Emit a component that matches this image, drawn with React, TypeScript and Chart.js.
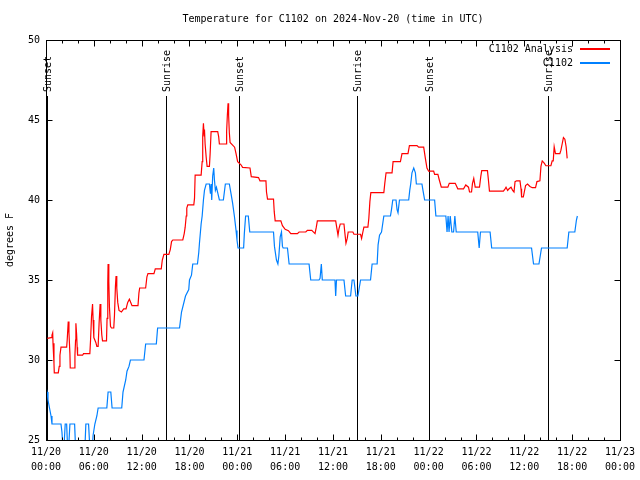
import React, { useEffect, useRef } from "react";
import { Chart, registerables } from "chart.js";

Chart.register(...registerables);

const TITLE = "Temperature for C1102 on 2024-Nov-20 (time in UTC)";
const Y_TITLE = "degrees F";
const SERIES_NAMES = ["C1102 Analysis", "C1102"];
const SERIES_COLORS = ["#ff0000", "#0080ff"];

// hours since 2024-11-20 00:00 UTC
const X_MIN = 0;
const X_MAX = 72;
const X_MAJOR = 6;
const X_MINOR = 2;
const X_TICK_DATES = ["11/20", "11/20", "11/20", "11/20", "11/21", "11/21", "11/21", "11/21", "11/22", "11/22", "11/22", "11/22", "11/23"];
const X_TICK_TIMES = ["00:00", "06:00", "12:00", "18:00", "00:00", "06:00", "12:00", "18:00", "00:00", "06:00", "12:00", "18:00", "00:00"];
const Y_MIN = 25;
const Y_MAX = 50;
const Y_STEP = 5;

const EVENT_LABELS = ["Sunset", "Sunrise", "Sunset", "Sunrise", "Sunset", "Sunrise"];
const EVENT_HOURS = [0.1, 15.05, 24.15, 39.05, 48.05, 63.0];
const EVENT_LINE_TOP = 46.5;
const EVENT_LABEL_BASE = 46.75;

const analysisHours = [
  0.16, 0.63, 0.75, 0.84, 0.88, 1.0, 1.04, 1.54, 1.66, 1.75, 1.88, 2.59, 2.66, 2.79, 2.88, 3.0, 3.04, 3.59, 3.63, 3.71,
  3.75, 3.84, 3.91, 3.96, 4.59, 4.71, 5.5, 5.59, 5.71, 5.84, 5.91, 6.0, 6.25, 6.38, 6.54, 6.66, 6.79, 6.88, 7.0, 7.09,
  7.59, 7.66, 7.75, 7.79, 7.88, 7.96, 8.09, 8.21, 8.5, 8.59, 8.71, 8.79, 8.88, 9.0, 9.16, 9.46, 9.75, 10.04, 10.25, 10.46,
  10.63, 10.79, 11.54, 11.66, 11.75, 12.5, 12.66, 12.79, 13.54, 13.71, 14.46, 14.59, 14.79, 15.41, 15.59, 15.75, 15.91, 17.16, 17.34, 17.46,
  17.59, 17.66, 17.79, 18.54, 18.63, 18.71, 19.46, 19.59, 19.66, 19.75, 19.84, 19.88, 19.96, 20.09, 20.21, 20.5, 20.59, 20.71, 21.54, 21.66,
  21.75, 22.59, 22.66, 22.75, 22.84, 22.91, 23.0, 23.09, 23.66, 23.84, 24.04, 24.46, 24.66, 25.59, 25.75, 26.66, 26.84, 27.59, 27.66, 27.79,
  28.54, 28.63, 28.75, 29.46, 29.66, 30.0, 30.41, 30.71, 31.54, 31.75, 32.59, 32.79, 33.34, 33.75, 33.91, 34.04, 36.34, 36.5, 36.63, 36.75,
  36.91, 37.38, 37.5, 37.63, 37.79, 37.91, 38.5, 38.63, 39.46, 39.59, 39.75, 39.88, 40.38, 40.5, 40.63, 40.75, 42.38, 42.5, 42.66, 43.41,
  43.54, 44.46, 44.66, 45.41, 45.59, 46.54, 46.75, 47.38, 47.59, 47.79, 48.0, 48.63, 48.75, 49.16, 49.34, 49.59, 50.41, 50.59, 51.34, 51.66,
  52.38, 52.66, 53.0, 53.13, 53.38, 53.5, 53.66, 53.84, 54.38, 54.54, 54.66, 55.38, 55.5, 55.63, 57.38, 57.59, 57.71, 57.91, 58.09, 58.34,
  58.54, 58.71, 58.84, 59.04, 59.46, 59.59, 59.66, 59.88, 60.0, 60.16, 60.41, 60.71, 61.0, 61.41, 61.59, 61.96, 62.09, 62.25, 62.5, 62.71,
  63.34, 63.5, 63.63, 63.75, 63.91, 64.46, 64.59, 64.75, 64.91, 65.09, 65.25, 65.38,
];
const analysisTemps = [
  31.35, 31.4, 31.56, 31.7, 31.04, 29.8, 29.2, 29.2, 29.6, 30.3, 30.8, 30.8, 31.25, 32.4, 31.7, 30.4, 29.5, 29.5, 30.3, 31.25,
  32.3, 31.6, 30.8, 30.3, 30.3, 30.4, 30.4, 31.25, 32.7, 33.5, 32.5, 31.4, 31.1, 30.85, 30.85, 32.3, 33.5, 32.5, 31.56, 31.2,
  31.2, 32.6, 34.8, 36.0, 34.9, 33.3, 32.1, 32.0, 32.0, 32.8, 34.6, 35.25, 34.5, 33.6, 33.1, 33.0, 33.2, 33.2, 33.6, 33.8,
  33.6, 33.4, 33.4, 34.2, 34.5, 34.5, 35.2, 35.4, 35.4, 35.7, 35.7, 36.25, 36.6, 36.6, 36.9, 37.4, 37.5, 37.5, 37.9, 38.3,
  39.0, 39.5, 39.7, 39.7, 40.1, 41.56, 41.56, 42.4, 44.0, 44.8, 44.0, 44.4, 43.5, 42.7, 42.1, 42.1, 42.9, 44.27, 44.27, 43.96,
  43.5, 43.5, 44.3, 45.3, 46.04, 45.3, 44.2, 43.6, 43.3, 42.9, 42.4, 42.2, 42.04, 42.0, 41.46, 41.4, 41.2, 41.2, 40.5, 40.06,
  40.06, 39.27, 38.7, 38.7, 38.4, 38.17, 38.08, 37.9, 37.9, 38.0, 38.0, 38.1, 38.1, 37.9, 38.3, 38.7, 38.7, 38.2, 37.8, 38.2,
  38.5, 38.5, 37.9, 37.3, 37.6, 38.0, 38.0, 37.86, 37.86, 37.6, 38.0, 38.3, 38.3, 38.86, 39.9, 40.46, 40.46, 41.04, 41.7, 41.7,
  42.4, 42.4, 42.9, 42.9, 43.4, 43.4, 43.3, 43.3, 42.6, 42.0, 41.8, 41.8, 41.6, 41.6, 41.25, 40.8, 40.8, 41.04, 41.04, 40.7,
  40.7, 40.94, 40.8, 40.5, 40.5, 41.04, 41.35, 40.8, 40.8, 41.46, 41.83, 41.83, 41.25, 40.56, 40.56, 40.7, 40.8, 40.6, 40.7, 40.8,
  40.6, 40.5, 41.15, 41.2, 41.2, 40.7, 40.2, 40.2, 40.5, 40.9, 41.0, 40.85, 40.77, 40.77, 41.15, 41.2, 42.1, 42.44, 42.3, 42.14,
  42.14, 42.44, 42.44, 43.33, 42.9, 42.9, 43.1, 43.5, 43.9, 43.8, 43.33, 42.6,
];

const obsHours = [
  0, 0.13, 0.25, 0.44, 0.63, 0.75, 1.88, 2.0, 2.13, 2.25, 2.41, 2.59, 2.71, 2.84, 3.0, 3.59, 3.71, 4.88, 5.0, 5.34,
  5.5, 5.81, 5.91, 6.13, 6.38, 6.54, 7.63, 7.79, 8.13, 8.29, 9.5, 9.66, 10.0, 10.16, 10.41, 10.59, 12.29, 12.5, 13.84, 14.0,
  16.75, 17.0, 17.5, 17.91, 18.0, 18.25, 18.41, 19.0, 19.16, 19.25, 19.46, 19.59, 19.75, 19.88, 20.09, 20.5, 20.63, 20.71, 20.79, 20.91,
  21.04, 21.13, 21.25, 21.38, 21.75, 22.25, 22.5, 23.0, 23.21, 23.41, 23.63, 23.84, 23.96, 24.09, 24.79, 24.88, 25.04, 25.38, 25.56, 28.54,
  28.66, 28.91, 29.09, 29.21, 29.38, 29.54, 29.66, 29.75, 30.29, 30.5, 33.0, 33.21, 34.25, 34.38, 34.54, 34.66, 36.25, 36.34, 36.44, 37.38,
  37.59, 38.21, 38.41, 38.63, 38.88, 39.13, 39.46, 40.71, 40.91, 41.54, 41.66, 41.84, 42.09, 42.38, 43.21, 43.34, 43.5, 43.91, 44.04, 44.16,
  44.34, 45.5, 45.63, 45.75, 45.91, 46.13, 46.34, 46.46, 47.16, 47.29, 47.5, 48.75, 48.91, 50.16, 50.31, 50.44, 50.56, 50.71, 50.91, 51.13,
  51.29, 51.46, 54.16, 54.34, 54.5, 55.71, 55.91, 60.91, 61.16, 61.84, 62.16, 65.38, 65.59, 66.34, 66.54, 66.66,
];
const obsTemps = [
  28.3, 28, 27.5, 27, 26.5, 26, 26, 25.5, 24.5, 24.5, 26, 26, 24.5, 24.5, 26, 26, 24.5, 24.5, 26, 26,
  24.5, 24.5, 25.3, 26, 26.5, 27, 27, 28, 28, 27, 27, 28, 28.75, 29.3, 29.6, 30, 30, 31, 31, 32,
  32, 33, 34, 34.4, 35, 35.3, 36, 36, 36.7, 37.3, 38.5, 39, 40, 40.6, 41, 41, 40.4, 41, 40, 41.5,
  42, 41.25, 40.6, 40.8, 40, 40, 41, 41, 40.4, 39.8, 39, 38.1, 37.5, 37, 37, 37.9, 39, 39, 38, 38,
  37.1, 36.25, 36, 36.5, 37.7, 38, 37.1, 37, 37, 36, 36, 35, 35, 35.1, 36, 35, 35, 34, 35, 35,
  34, 34, 35, 35, 34, 34, 35, 35, 36, 36, 37.2, 37.8, 38, 39, 39, 39.4, 40, 40, 39.4, 39.2,
  40, 40, 40.6, 41, 41.7, 42, 41.7, 41, 41, 40.6, 40, 40, 39, 39, 38, 39, 38, 39, 38, 38,
  39, 38, 38, 37, 38, 38, 37, 37, 36, 36, 37, 37, 38, 38, 38.75, 39,
];

const FONT_FAMILY = "'DejaVu Sans Mono', 'Liberation Mono', monospace";
const FONT = `10px ${FONT_FAMILY}`;

const decorations = {
  id: "decorations",
  beforeDatasetsDraw(chart: any) {
    const { ctx, chartArea: a, scales } = chart;
    const xs = scales.x;
    const ys = scales.y;
    ctx.save();
    ctx.strokeStyle = "#000";
    ctx.fillStyle = "#000";
    ctx.lineWidth = 1;
    ctx.font = FONT;
    EVENT_HOURS.forEach((h, i) => {
      const px = Math.round(xs.getPixelForValue(h)) + 0.5;
      ctx.beginPath();
      ctx.moveTo(px, ys.getPixelForValue(EVENT_LINE_TOP));
      ctx.lineTo(px, a.bottom);
      ctx.stroke();
      ctx.save();
      ctx.translate(px + 0.5, ys.getPixelForValue(EVENT_LABEL_BASE));
      ctx.rotate(-Math.PI / 2);
      ctx.textAlign = "left";
      ctx.textBaseline = "middle";
      ctx.fillText(EVENT_LABELS[i], 0, 0);
      ctx.restore();
    });
    ctx.restore();
  },
  afterDraw(chart: any) {
    const { ctx, chartArea: a, scales } = chart;
    const xs = scales.x;
    const ys = scales.y;
    ctx.save();
    ctx.strokeStyle = "#000";
    ctx.fillStyle = "#000";
    ctx.lineWidth = 1;
    const L = Math.round(a.left) + 0.5;
    const R = Math.round(a.right) + 0.5;
    const T = Math.round(a.top) + 0.5;
    const B = Math.round(a.bottom) + 0.5;
    ctx.strokeRect(L, T, R - L, B - T);
    ctx.beginPath();
    for (let h = X_MIN; h <= X_MAX; h += X_MINOR) {
      const len = h % X_MAJOR === 0 ? 6 : 3;
      const px = Math.round(xs.getPixelForValue(h)) + 0.5;
      ctx.moveTo(px, B);
      ctx.lineTo(px, B - len);
      ctx.moveTo(px, T);
      ctx.lineTo(px, T + len);
    }
    for (let v = Y_MIN; v <= Y_MAX; v += Y_STEP) {
      const py = Math.round(ys.getPixelForValue(v)) + 0.5;
      ctx.moveTo(L, py);
      ctx.lineTo(L + 6, py);
      ctx.moveTo(R, py);
      ctx.lineTo(R - 6, py);
    }
    ctx.stroke();

    // title
    ctx.font = FONT;
    ctx.textAlign = "center";
    ctx.textBaseline = "middle";
    ctx.fillStyle = "#000";
    ctx.fillText(TITLE, (a.left + a.right) / 2, 19);

    // legend
    ctx.textAlign = "right";
    SERIES_NAMES.forEach((name, i) => {
      const y = Math.round(a.top + 9 + i * 14);
      ctx.fillStyle = "#000";
      ctx.fillText(name, a.right - 47, y);
      ctx.fillStyle = SERIES_COLORS[i];
      ctx.fillRect(Math.round(a.right - 40), y - 1, 30, 2);
    });
    ctx.restore();
  },
};

export default function App() {
  const canvasRef = useRef<HTMLCanvasElement | null>(null);

  useEffect(() => {
    const canvas = canvasRef.current;
    if (!canvas) return;
    const analysis = analysisHours.map((h, i) => ({ x: h, y: analysisTemps[i] }));
    const obs = obsHours.map((h, i) => ({ x: h, y: obsTemps[i] }));
    const chart = new Chart(canvas, {
      type: "line",
      data: {
        datasets: [
          {
            label: SERIES_NAMES[0],
            data: analysis,
            borderColor: SERIES_COLORS[0],
            borderWidth: 1.2,
            pointRadius: 0,
            tension: 0,
            fill: false,
          },
          {
            label: SERIES_NAMES[1],
            data: obs,
            borderColor: SERIES_COLORS[1],
            borderWidth: 1.2,
            pointRadius: 0,
            tension: 0,
            fill: false,
          },
        ],
      },
      options: {
        animation: false,
        responsive: false,
        devicePixelRatio: 1,
        layout: { padding: { top: 40, right: 18, left: 0, bottom: 0 } },
        plugins: {
          legend: { display: false },
          title: { display: false },
          tooltip: { enabled: false },
        },
        scales: {
          x: {
            type: "linear",
            min: X_MIN,
            max: X_MAX,
            grid: { display: false, drawTicks: false },
            border: { display: false },
            afterFit: (s: any) => {
              s.height = 40;
            },
            ticks: {
              stepSize: X_MAJOR,
              autoSkip: false,
              maxRotation: 0,
              minRotation: 0,
              padding: 5,
              color: "#000",
              font: { family: FONT_FAMILY, size: 10, lineHeight: 1.5 },
              callback: (v: any) => {
                const i = Math.round(Number(v) / X_MAJOR);
                return [X_TICK_DATES[i], X_TICK_TIMES[i]];
              },
            },
          },
          y: {
            type: "linear",
            min: Y_MIN,
            max: Y_MAX,
            grid: { display: false, drawTicks: false },
            border: { display: false },
            afterFit: (s: any) => {
              s.width = 46;
            },
            ticks: {
              stepSize: Y_STEP,
              padding: 6,
              color: "#000",
              font: { family: FONT_FAMILY, size: 10 },
            },
            title: {
              display: true,
              text: Y_TITLE,
              color: "#000",
              font: { family: FONT_FAMILY, size: 10 },
              padding: { top: 4, bottom: 0 },
            },
          },
        },
      },
      plugins: [decorations],
    });
    return () => chart.destroy();
  }, []);

  return (
    <div style={{ position: "absolute", left: 0, top: 0, width: 640, height: 480, background: "#fff" }}>
      <canvas ref={canvasRef} width={640} height={480} style={{ display: "block" }} />
    </div>
  );
}
